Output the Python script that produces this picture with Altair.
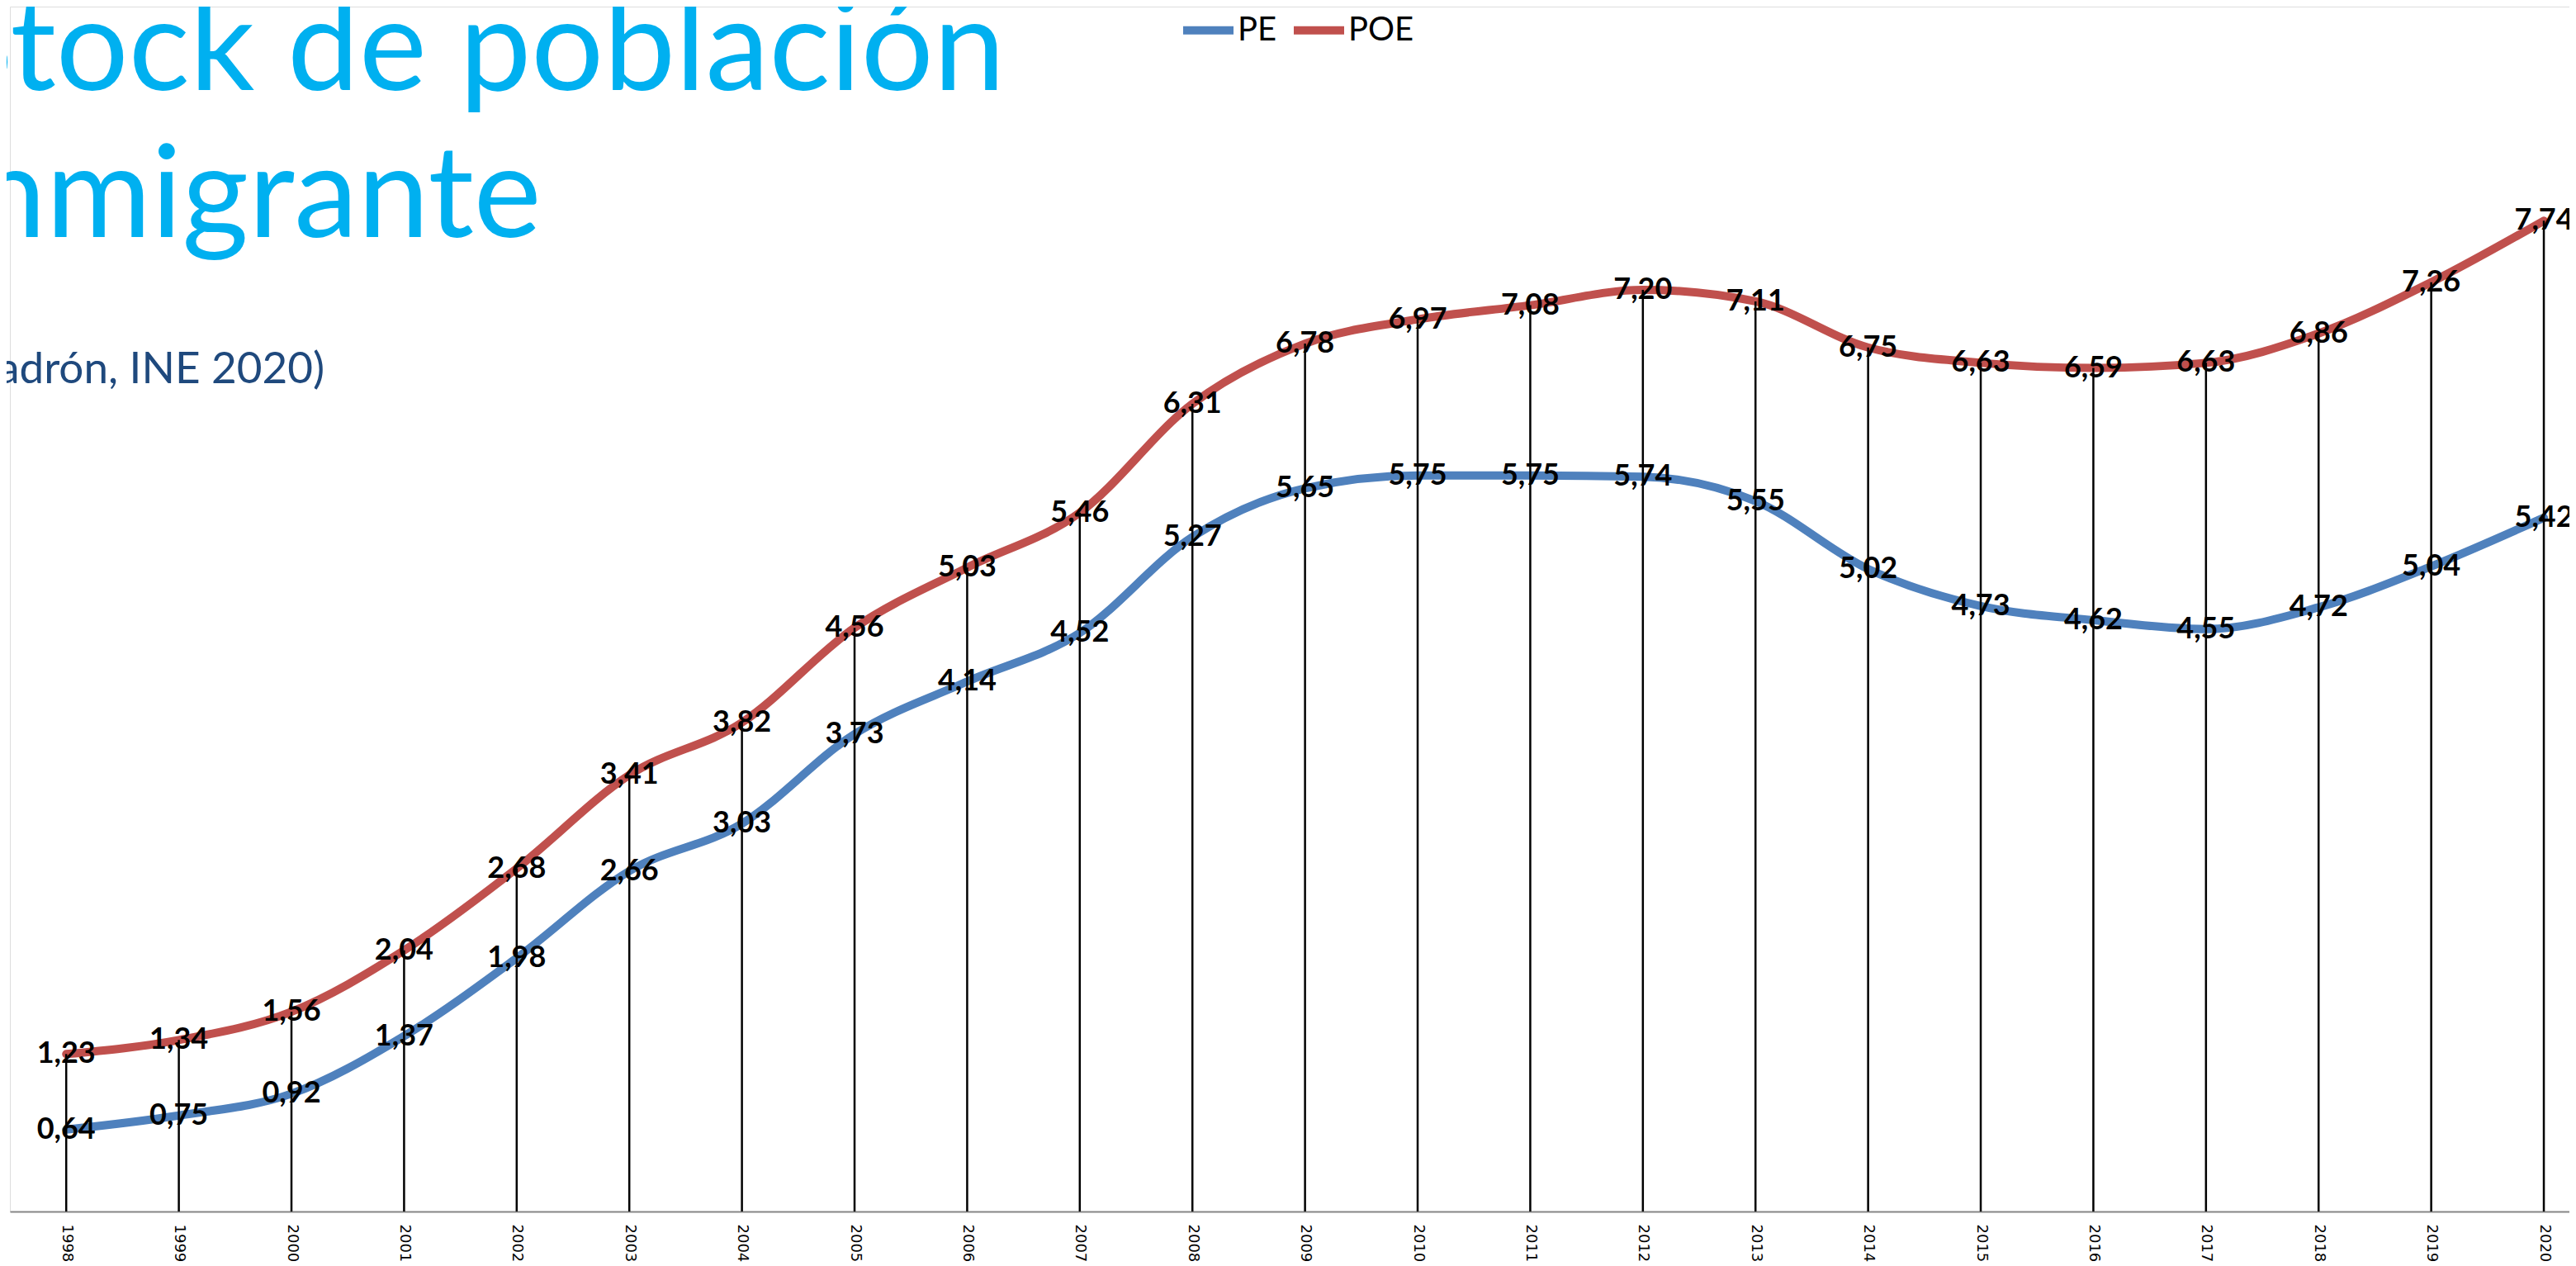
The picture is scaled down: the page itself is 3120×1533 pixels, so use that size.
import altair as alt
import pandas as pd

years = [1998, 1999, 2000, 2001, 2002, 2003, 2004, 2005, 2006, 2007, 2008,
         2009, 2010, 2011, 2012, 2013, 2014, 2015, 2016, 2017, 2018, 2019, 2020]
pe = [0.64, 0.75, 0.92, 1.37, 1.98, 2.66, 3.03, 3.73, 4.14, 4.52, 5.27,
      5.65, 5.75, 5.75, 5.74, 5.55, 5.02, 4.73, 4.62, 4.55, 4.72, 5.04, 5.42]
poe = [1.23, 1.34, 1.56, 2.04, 2.68, 3.41, 3.82, 4.56, 5.03, 5.46, 6.31,
       6.78, 6.97, 7.08, 7.20, 7.11, 6.75, 6.63, 6.59, 6.63, 6.86, 7.26, 7.74]
series_names = ["PE", "POE"]
series_colors = ["#4F81BD", "#C0504D"]
title_lines = ["Stock de población", "inmigrante"]
subtitle_text = "(Padrón, INE 2020)"

df = pd.DataFrame({
    "year": years + years,
    "serie": ["PE"] * len(years) + ["POE"] * len(years),
    "value": pe + poe,
})
df_poe = pd.DataFrame({"year": years, "value": poe})

W, H = 3100, 1459

x_enc = alt.X(
    "year:Q",
    scale=alt.Scale(domain=[1997.5, 2020.227], nice=False, zero=False),
    axis=alt.Axis(
        values=years, format="d", title=None, grid=False, ticks=False,
        labelAngle=90, labelPadding=15, labelFont="DejaVu Sans", labelFontSize=18,
        labelColor="#000000", labelFlush=False, labelOverlap=False,
        domainColor="#868686", domainWidth=2,
    ),
)
y_enc = alt.Y("value:Q", scale=alt.Scale(domain=[0, 9.413], nice=False), axis=None)

lines = alt.Chart(df).mark_line(
    strokeWidth=10, interpolate="monotone", strokeCap="round", strokeJoin="round"
).encode(
    x=x_enc,
    y=y_enc,
    color=alt.Color(
        "serie:N",
        scale=alt.Scale(domain=series_names, range=series_colors),
        legend=alt.Legend(
            orient="none", legendX=1416, legendY=-7, direction="horizontal",
            title=None, symbolType="stroke", symbolSize=3721, symbolStrokeWidth=10,
            labelFont="Lato", labelFontSize=40, labelColor="#000000",
            labelOffset=0, columnPadding=0, padding=0,
        ),
    ),
)

rules = alt.Chart(df_poe).mark_rule(color="#000000", strokeWidth=2.5).transform_calculate(
    zero="0"
).encode(
    x="year:Q",
    y="value:Q",
    y2="zero:Q",
)

labels = alt.Chart(df).mark_text(
    font="Lato", fontWeight="bold", fontSize=36, color="#000000",
    align="center", baseline="middle",
).transform_calculate(
    label="replace(format(datum.value, '.2f'), '.', ',')"
).encode(
    x="year:Q",
    y="value:Q",
    text="label:N",
)

one = pd.DataFrame({"k": [0]})
title = alt.Chart(one).mark_text(
    text=title_lines, font="Lato", fontSize=155, color="#00B0F0",
    align="left", baseline="alphabetic", lineHeight=178,
).encode(x=alt.value(-80), y=alt.value(101))

subtitle = alt.Chart(one).mark_text(
    text=subtitle_text, font="Lato", fontSize=53, color="#1F497D",
    align="left", baseline="alphabetic",
).encode(x=alt.value(-60), y=alt.value(456))

chart = alt.layer(lines, rules, labels, title, subtitle).properties(
    width=W, height=H,
    padding={"left": 4, "top": 0, "right": 0, "bottom": 66},
    autosize=alt.AutoSizeParams(type="none"),
).configure_view(stroke="transparent").configure(background="#FFFFFF")

chart.save("out.html", embed_options={"renderer": "svg", "actions": False})
